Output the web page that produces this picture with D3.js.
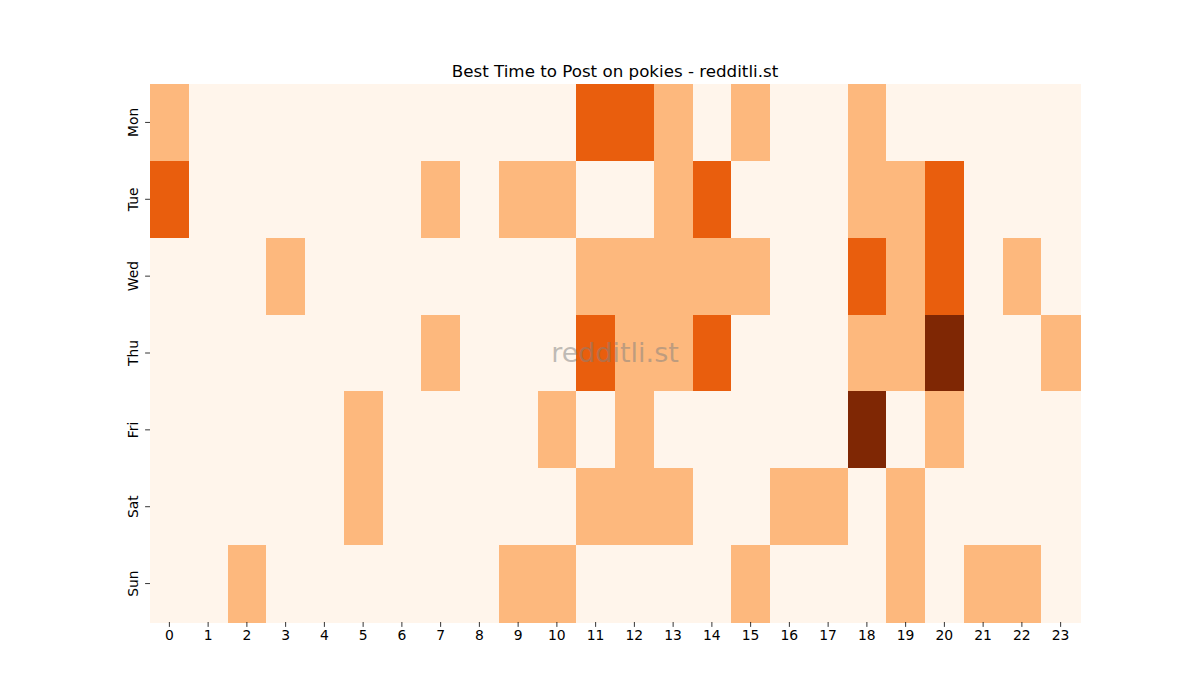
<!DOCTYPE html>
<html><head><meta charset="utf-8">
<script src="https://cdn.jsdelivr.net/npm/d3@7"></script>
<style>body{margin:0;background:#fff}svg{display:block;font-family:"DejaVu Sans",sans-serif}</style>
</head><body>
<svg id="chart" width="1200" height="700"></svg>
<script>
const days = ["Mon","Tue","Wed","Thu","Fri","Sat","Sun"];
const hours = ["0","1","2","3","4","5","6","7","8","9","10","11","12","13","14","15","16","17","18","19","20","21","22","23"];
const mon = [1,0,0,0,0,0,0,0,0,0,0,2,2,1,0,1,0,0,1,0,0,0,0,0];
const tue = [2,0,0,0,0,0,0,1,0,1,1,0,0,1,2,0,0,0,1,1,2,0,0,0];
const wed = [0,0,0,1,0,0,0,0,0,0,0,1,1,1,1,1,0,0,2,1,2,0,1,0];
const thu = [0,0,0,0,0,0,0,1,0,0,0,2,1,1,2,0,0,0,1,1,3,0,0,1];
const fri = [0,0,0,0,0,1,0,0,0,0,1,0,1,0,0,0,0,0,3,0,1,0,0,0];
const sat = [0,0,0,0,0,1,0,0,0,0,0,1,1,1,0,0,1,1,0,1,0,0,0,0];
const sun = [0,0,1,0,0,0,0,0,0,1,1,0,0,0,0,1,0,0,0,1,0,1,1,0];
const rows = [mon,tue,wed,thu,fri,sat,sun];
const title = "Best Time to Post on pokies - redditli.st";

const svg = d3.select("#chart");
const L=150, R=1080, T=84, B=622;
const x = d3.scaleBand().domain(hours).range([L,R]);
const y = d3.scaleBand().domain(days).range([T,B]);
const color = d3.scaleOrdinal().domain([0,1,2,3]).range(["#fff5eb","#fdb87d","#e95e0d","#7f2704"]);

const cells = [];
rows.forEach((r,i)=>r.forEach((v,j)=>cells.push({d:days[i],h:hours[j],v})));
svg.append("g").selectAll("rect").data(cells).join("rect")
  .attr("x",d=>x(d.h)).attr("y",d=>y(d.d))
  .attr("width",x.bandwidth()+0.5).attr("height",y.bandwidth()+0.5)
  .attr("fill",d=>color(d.v)).attr("shape-rendering","crispEdges");

const xa = svg.append("g").attr("transform",`translate(0,${B})`)
  .call(d3.axisBottom(x).tickSize(4.9).tickPadding(3.5));
xa.select(".domain").remove();
xa.selectAll("text").attr("font-size","13.9px").attr("fill","#000").attr("font-family","DejaVu Sans");
xa.selectAll("line").attr("stroke","#000").attr("stroke-width",0.8);

const ya = svg.append("g").attr("transform",`translate(${L},0)`)
  .call(d3.axisLeft(y).tickSize(4.9).tickPadding(3.5));
ya.select(".domain").remove();
ya.selectAll("line").attr("stroke","#000").attr("stroke-width",0.8);
ya.selectAll("text").attr("font-size","13.9px").attr("fill","#000").attr("font-family","DejaVu Sans")
  .attr("x",null).attr("dy",null)
  .attr("text-anchor","middle")
  .attr("transform","translate(-17,0) rotate(-90)")
  .attr("dy","0.35em");

svg.append("text").attr("x",(L+R)/2).attr("y",77).attr("text-anchor","middle")
  .attr("font-size","16.7px").attr("fill","#000").text(title);

svg.append("text").attr("x",(L+R)/2).attr("y",(T+B)/2).attr("dy","0.35em").attr("text-anchor","middle")
  .attr("font-size","27px").attr("fill","#808080").attr("fill-opacity",0.5).text("redditli.st");
</script>
</body></html>
